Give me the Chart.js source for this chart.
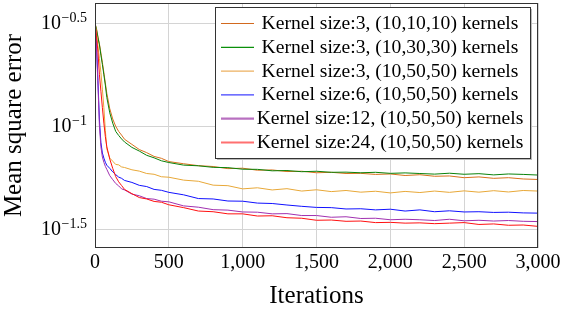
<!DOCTYPE html>
<meta charset="utf-8">
<html lang="en">
<head>
<script src="https://cdn.jsdelivr.net/npm/chart.js@4/dist/chart.umd.min.js"></script>
<style>
  html, body { margin: 0; padding: 0; background: #fff; }
</style>
</head>
<body>
<canvas id="c" width="576" height="336"></canvas>
<script>
var iters = [0, 10, 20, 30, 40, 50, 60, 70, 80, 100, 120, 140, 160, 180, 200, 250, 300, 350, 400, 450, 500,
  600, 700, 800, 900, 1000, 1100, 1200, 1300, 1400, 1500, 1600, 1700, 1800, 1900,
  2000, 2100, 2200, 2300, 2400, 2500, 2600, 2700, 2800, 2900, 3000];

var mseK3_10 = [0.3162, 0.2985, 0.2723, 0.2512, 0.2265, 0.2042, 0.1820, 0.1622, 0.1445, 0.1216, 0.1084, 0.1000, 0.0944, 0.0905, 0.0864, 0.0816, 0.0770, 0.0744, 0.0713, 0.0698, 0.0673,
  0.0657, 0.0643, 0.0637, 0.0622, 0.0625, 0.0611, 0.0613, 0.0602, 0.0604,
  0.0594, 0.0597, 0.0589, 0.0590, 0.0583,
  0.0586, 0.0576, 0.0581, 0.0571, 0.0573,
  0.0562, 0.0567, 0.0558, 0.0562, 0.0554, 0.0551];
var mseK3_30 = [0.3162, 0.2951, 0.2692, 0.2483, 0.2213, 0.1995, 0.1778, 0.1585, 0.1380, 0.1161, 0.1035, 0.0944, 0.0902, 0.0867, 0.0838, 0.0789, 0.0757, 0.0722, 0.0702, 0.0679, 0.0666,
  0.0647, 0.0642, 0.0631, 0.0629, 0.0618, 0.0617, 0.0607, 0.0609, 0.0601,
  0.0604, 0.0597, 0.0598, 0.0594, 0.0597,
  0.0590, 0.0593, 0.0589, 0.0585, 0.0591,
  0.0584, 0.0588, 0.0580, 0.0586, 0.0583, 0.0579];
var mseK3_50 = [0.3162, 0.2818, 0.2455, 0.2138, 0.1820, 0.1514, 0.1230, 0.0955, 0.0776, 0.0700, 0.0676, 0.0652, 0.0649, 0.0634, 0.0630, 0.0614, 0.0605, 0.0589, 0.0584, 0.0568, 0.0565,
  0.0547, 0.0540, 0.0517, 0.0514, 0.0496, 0.0502, 0.0490, 0.0497, 0.0484,
  0.0491, 0.0481, 0.0487, 0.0478, 0.0483,
  0.0474, 0.0482, 0.0476, 0.0484, 0.0477,
  0.0485, 0.0478, 0.0486, 0.0479, 0.0487, 0.0484];
var mseK6_50 = [0.3162, 0.2512, 0.1660, 0.1072, 0.0832, 0.0741, 0.0700, 0.0668, 0.0646, 0.0624, 0.0600, 0.0582, 0.0566, 0.0558, 0.0545, 0.0533, 0.0516, 0.0509, 0.0493, 0.0488, 0.0477,
  0.0464, 0.0445, 0.0443, 0.0433, 0.0432, 0.0423, 0.0421, 0.0414, 0.0408,
  0.0403, 0.0402, 0.0396, 0.0397, 0.0392,
  0.0395, 0.0387, 0.0392, 0.0384, 0.0388,
  0.0383, 0.0384, 0.0381, 0.0382, 0.0379, 0.0378];
var mseK12_50 = [0.3162, 0.2399, 0.1585, 0.1000, 0.0794, 0.0708, 0.0668, 0.0638, 0.0617, 0.0575, 0.0550, 0.0527, 0.0513, 0.0496, 0.0490, 0.0468, 0.0459, 0.0445, 0.0442, 0.0432, 0.0429,
  0.0410, 0.0404, 0.0393, 0.0391, 0.0383, 0.0382, 0.0375, 0.0376, 0.0368,
  0.0368, 0.0361, 0.0363, 0.0356, 0.0357,
  0.0351, 0.0353, 0.0351, 0.0348, 0.0353,
  0.0347, 0.0349, 0.0346, 0.0348, 0.0345, 0.0344];
var mseK24_50 = [0.3162, 0.2754, 0.2291, 0.1778, 0.1479, 0.1230, 0.1035, 0.0891, 0.0794, 0.0692, 0.0624, 0.0569, 0.0537, 0.0515, 0.0493, 0.0470, 0.0450, 0.0443, 0.0431, 0.0427, 0.0415,
  0.0402, 0.0387, 0.0384, 0.0375, 0.0375, 0.0366, 0.0367, 0.0359, 0.0357,
  0.0349, 0.0350, 0.0345, 0.0346, 0.0340,
  0.0341, 0.0338, 0.0339, 0.0336, 0.0338,
  0.0340, 0.0333, 0.0335, 0.0330, 0.0331, 0.0326];

var seriesLabels = [
  'Kernel size:3, (10,10,10) kernels',
  'Kernel size:3, (10,30,30) kernels',
  'Kernel size:3, (10,50,50) kernels',
  'Kernel size:6, (10,50,50) kernels',
  'Kernel size:12, (10,50,50) kernels',
  'Kernel size:24, (10,50,50) kernels'
];
var seriesValues = [mseK3_10, mseK3_30, mseK3_50, mseK6_50, mseK12_50, mseK24_50];

// y ticks are 10^-0.5, 10^-1, 10^-1.5
var yTickExp = ['\u22120.5', '\u22121', '\u22121.5'];
var yTicks = [0.316228, 0.1, 0.0316228];
var xTicks = [0, 500, 1000, 1500, 2000, 2500, 3000];

var lineColors = ['#d8701c', '#0a820a', '#e8a838', '#1010ff', '#a030b0', '#ff1010'];
var keyColors = ['#d2691e', '#0a900a', '#ecb060', '#4040ff', '#b870c0', '#ff7070'];
var keyWidths = [1.2, 1.2, 1.2, 1.2, 2.2, 2.2];

var serif = '"Liberation Serif", "Times New Roman", serif';

var datasets = seriesValues.map(function(vals, i) {
  return {
    label: seriesLabels[i],
    data: iters.map(function(x, j) { return {x: x, y: vals[j]}; }),
    borderColor: lineColors[i],
    borderWidth: 1,
    pointRadius: 0,
    tension: 0,
    order: seriesValues.length - i
  };
});

var decor = {
  id: 'decor',
  afterDraw: function(chart) {
    var ctx = chart.ctx, a = chart.chartArea, ys = chart.scales.y;
    ctx.save();
    // frame
    ctx.strokeStyle = '#333';
    ctx.lineWidth = 1;
    ctx.strokeRect(a.left + 0.5, a.top + 0.5, a.right - a.left - 1, a.bottom - a.top - 1);

    // y tick labels with exponent
    ctx.fillStyle = '#000';
    ctx.textBaseline = 'alphabetic';
    yTicks.forEach(function(v, i) {
      var y = ys.getPixelForValue(v);
      ctx.font = '14px ' + serif;
      var ew = ctx.measureText(yTickExp[i]).width;
      ctx.textAlign = 'right';
      ctx.fillText(yTickExp[i], 87, y - 1);
      ctx.font = '20px ' + serif;
      ctx.fillText('10', 87 - ew - 0.5, y + 6);
    });

    // axis titles
    ctx.font = '25px ' + serif;
    ctx.textAlign = 'center';
    ctx.fillText('Iterations', (a.left + a.right) / 2, 303);
    ctx.save();
    ctx.translate(21, (a.top + a.bottom) / 2);
    ctx.rotate(-Math.PI / 2);
    ctx.fillText('Mean square error', 0, 0);
    ctx.restore();

    // legend
    var bx = 215, by = 7, bw = 315, bh = 151;
    ctx.fillStyle = '#bbb';
    ctx.fillRect(bx + 2, by + 2, bw, bh);
    ctx.fillStyle = '#fff';
    ctx.fillRect(bx, by, bw, bh);
    ctx.strokeStyle = '#333';
    ctx.lineWidth = 1;
    ctx.strokeRect(bx + 0.5, by + 0.5, bw, bh);
    ctx.font = '19.6px ' + serif;
    ctx.textAlign = 'center';
    chart.data.datasets.forEach(function(ds, i) {
      var ry = 23.5 + i * 23.8;
      ctx.strokeStyle = keyColors[i];
      ctx.lineWidth = keyWidths[i];
      ctx.beginPath();
      ctx.moveTo(221, ry);
      ctx.lineTo(254, ry);
      ctx.stroke();
      ctx.fillStyle = '#000';
      ctx.fillText(ds.label, 390, ry + 5.5);
    });
    ctx.restore();
  }
};

new Chart(document.getElementById('c'), {
  type: 'line',
  data: { datasets: datasets },
  options: {
    responsive: false,
    animation: false,
    devicePixelRatio: 1,
    layout: { padding: { left: 0, top: 3, right: 38, bottom: 0 } },
    plugins: { legend: { display: false }, tooltip: { enabled: false } },
    scales: {
      x: {
        type: 'linear',
        min: 0,
        max: 3000,
        afterBuildTicks: function(s) { s.ticks = xTicks.map(function(v) { return {value: v}; }); },
        afterFit: function(s) { s.height = 88; },
        ticks: {
          color: '#000',
          font: { family: serif, size: 20 },
          padding: 3,
          maxRotation: 0,
          callback: function(v) { return v.toLocaleString('en-US'); }
        },
        grid: { color: '#d4d4d4', drawTicks: false },
        border: { display: false }
      },
      y: {
        type: 'logarithmic',
        min: 0.02559,
        max: 0.397,
        afterBuildTicks: function(s) { s.ticks = yTicks.map(function(v) { return {value: v}; }); },
        afterFit: function(s) { s.width = 95; },
        ticks: { display: false },
        grid: { color: '#d4d4d4', drawTicks: false },
        border: { display: false }
      }
    }
  },
  plugins: [decor]
});
</script>
</body>
</html>
